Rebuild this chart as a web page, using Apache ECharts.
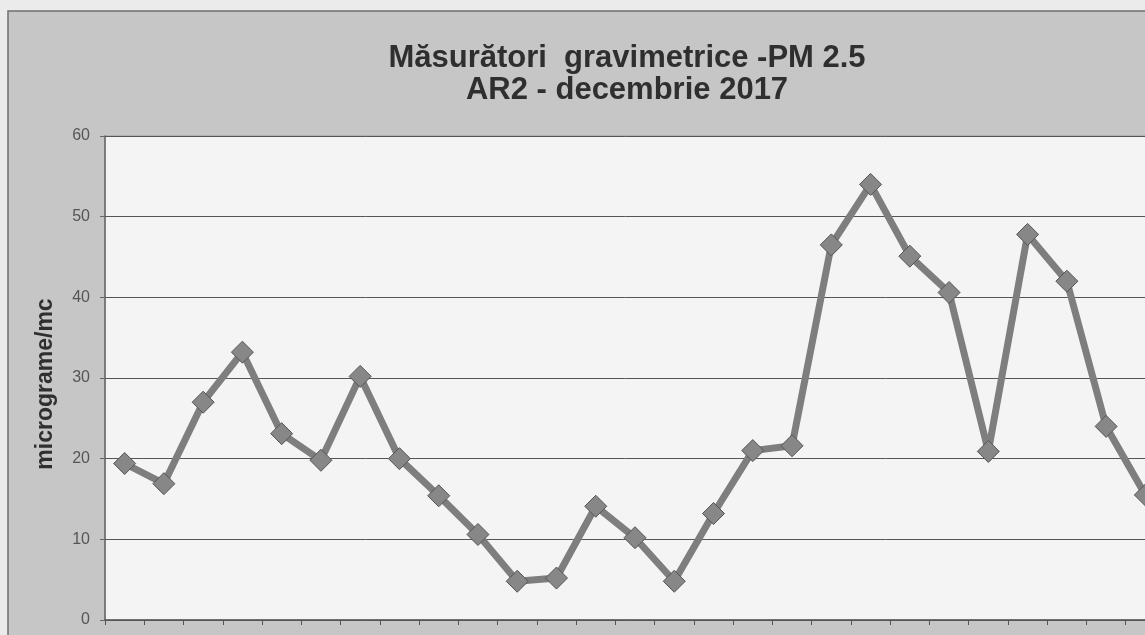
<!DOCTYPE html>
<html>
<head>
<meta charset="utf-8">
<script src="https://cdn.jsdelivr.net/npm/echarts@6/dist/echarts.min.js"></script>
<style>
  html, body { margin: 0; padding: 0; background: #ebebeb; }
  #chart { width: 1145px; height: 635px; }
</style>
</head>
<body>
<div id="chart"></div>
<script>
  // zilele vizibile din decembrie (restul graficului e taiat in scan)
  var days = ['1', '2', '3', '4', '5', '6', '7', '8', '9', '10', '11', '12', '13', '14',
    '15', '16', '17', '18', '19', '20', '21', '22', '23', '24', '25', '26', '27'];
  // PM 2.5, micrograme/mc
  var pm25 = [19.4, 16.9, 27.0, 33.2, 23.1, 19.8, 30.2, 20.0, 15.4, 10.6, 4.8, 5.2, 14.1, 10.2,
    4.8, 13.2, 21.0, 21.6, 46.5, 54.0, 45.1, 40.6, 20.9, 47.8, 42.0, 24.0, 15.5];
  var yTicks = [0, 10, 20, 30, 40, 50, 60];

  var myChart = echarts.init(document.getElementById('chart'));

  myChart.setOption({
    animation: false,
    backgroundColor: '#ebebeb',
    graphic: [{
      type: 'rect',
      z: -10,
      shape: { x: 8, y: 11, width: 1160, height: 640 },
      style: { fill: '#c6c6c6', stroke: '#6f6f6f', lineWidth: 1.5 }
    }],
    title: {
      text: 'Măsurători  gravimetrice -PM 2.5\nAR2 - decembrie 2017',
      left: 622,
      top: 37,
      textAlign: 'center',
      textStyle: {
        fontFamily: 'Liberation Sans',
        fontWeight: 'bold',
        fontSize: 31,
        lineHeight: 32,
        color: '#2f2f2f'
      }
    },
    grid: {
      left: 105,
      top: 136,
      bottom: 15,
      width: 1060,
      outerBoundsMode: 'none',
      show: true,
      backgroundColor: '#f4f4f4',
      borderColor: '#9a9a9a',
      borderWidth: 1
    },
    xAxis: {
      type: 'category',
      data: days,
      boundaryGap: true,
      axisLine: { show: true, lineStyle: { color: '#555', width: 1.5 } },
      axisTick: { show: true, length: 5, lineStyle: { color: '#555' } },
      axisLabel: { show: false },
      splitLine: { show: false }
    },
    yAxis: {
      type: 'value',
      min: yTicks[0],
      max: yTicks[yTicks.length - 1],
      interval: 10,
      name: 'micrograme/mc',
      nameLocation: 'middle',
      nameGap: 48,
      nameTextStyle: {
        fontFamily: 'Liberation Sans',
        fontWeight: 'bold',
        fontSize: 23,
        color: '#2f2f2f',
        padding: [0, 12, 0, 0]
      },
      axisLine: { show: true, lineStyle: { color: '#666', width: 1.5 } },
      axisTick: { show: true, length: 5, lineStyle: { color: '#666' } },
      axisLabel: {
        margin: 15,
        fontFamily: 'Liberation Sans',
        fontSize: 16,
        color: '#555'
      },
      splitLine: { show: true, lineStyle: { color: '#555', width: 1 } }
    },
    series: [{
      name: 'PM 2.5',
      type: 'line',
      data: pm25,
      symbol: 'diamond',
      symbolSize: 22,
      lineStyle: { color: '#7e7e7e', width: 7 },
      itemStyle: { color: '#878787', borderColor: '#555', borderWidth: 1 },
      z: 5
    }]
  });
</script>
</body>
</html>
